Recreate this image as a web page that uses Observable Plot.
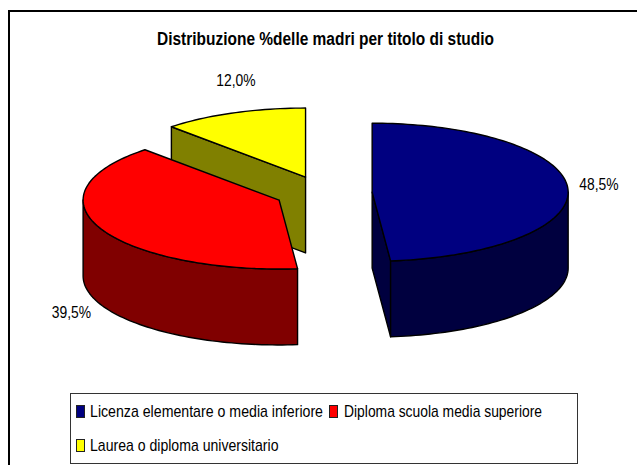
<!DOCTYPE html>
<html>
<head>
<meta charset="utf-8">
<script src="https://cdn.jsdelivr.net/npm/d3@7"></script>
<script src="https://cdn.jsdelivr.net/npm/@observablehq/plot@0.6"></script>
<style>
html,body{margin:0;padding:0;background:#fff;overflow:hidden}
#wrap{position:relative;width:637px;height:465px;font-family:"Liberation Sans",Arial,sans-serif;color:#000;overflow:hidden}
#frame{position:absolute;left:8px;top:10px;width:640px;height:470px;border:2px solid #000;box-sizing:border-box}
#chart{position:absolute;left:0;top:0}
.t{position:absolute;white-space:nowrap;transform-origin:0 0;line-height:1}
#legend{position:absolute;left:70px;top:393px;width:508px;height:71px;border:1px solid #333;box-sizing:border-box}
.sw{position:absolute;width:7px;height:11px;border:1px solid #222}
</style>
</head>
<body>
<div id="wrap">
<div id="frame"></div>
<div id="chart"></div>
<div id="legend"></div>
</div>
<script>
const title = "Distribuzione %delle madri per titolo di studio";
const categories = ["Licenza elementare o media inferiore", "Diploma scuola media superiore", "Laurea o diploma universitario"];
const shares = [48.5, 39.5, 12.0];
const shareLabels = ["48,5%", "39,5%", "12,0%"];
const topColors = ["#000080", "#FF0000", "#FFFF00"];
const wallColors = ["#00003F", "#800000", "#808000"];

// layout of the projected pie (not data)
const W = 637, H = 465;
const explode = 0.2485, depth = 1.1;
const xScale = {domain: [-1, 1], range: [127, 519]};
const yScale = {domain: [-1, 1], range: [123.5, 261.5]};
const labelNudge = [[31, -4], [-29, 8], [2.5, -32]];
const rad = d => d * Math.PI / 180;

let acc = 0;
const slices = shares.map((v, i) => {
  const s = acc / 100 * 360; acc += v; const e = acc / 100 * 360; const m = (s + e) / 2;
  return {i, s, e, m, cx: explode * Math.sin(rad(m)), cy: -explode * Math.cos(rad(m))};
});
const pt = (sl, t, z = 0) => ({x: sl.cx + Math.sin(rad(t)), y: sl.cy - Math.cos(rad(t)) + z});
const arc = (sl, a, b, z = 0) => {
  const n = Math.max(2, Math.ceil(Math.abs(b - a) / 1.5));
  return d3.range(n + 1).map(k => pt(sl, a + (b - a) * k / n, z));
};
const poly = (pts, fill) => Plot.line([...pts, pts[0]], {x: "x", y: "y", curve: "linear", fill, stroke: "#000", strokeWidth: 1.4});

const marks = [];
for (const sl of [...slices].sort((a, b) => a.cy - b.cy)) {
  const c = {x: sl.cx, y: sl.cy}, c2 = {x: sl.cx, y: sl.cy + depth};
  const wall = wallColors[sl.i];
  for (const [t, vis] of [[sl.s, Math.sin(rad(sl.s)) < -1e-6], [sl.e, Math.sin(rad(sl.e)) > 1e-6]]) {
    if (vis) marks.push(poly([c, pt(sl, t), pt(sl, t, depth), c2], wall));
  }
  const a = Math.max(sl.s, 90), b = Math.min(sl.e, 270);
  if (b > a) marks.push(poly([...arc(sl, a, b), ...arc(sl, b, a, depth)], wall));
  marks.push(poly([c, ...arc(sl, sl.s, sl.e)], topColors[sl.i]));
}
slices.forEach(sl => {
  const p = pt(sl, sl.m, Math.cos(rad(sl.m)) < -0.2 ? depth : 0);
  marks.push(Plot.text([{x: p.x, y: p.y, label: shareLabels[sl.i]}], {
    x: "x", y: "y", text: "label", dx: labelNudge[sl.i][0], dy: labelNudge[sl.i][1],
    fontSize: 17, fill: "#000", className: "pct"
  }));
});

const svg = Plot.plot({
  width: W, height: H, margin: 0,
  style: {background: "transparent", fontFamily: '"Liberation Sans",Arial,sans-serif', overflow: "hidden"},
  x: {...xScale, axis: null}, y: {...yScale, axis: null},
  marks
});
document.getElementById("chart").appendChild(svg);
svg.querySelectorAll(".pct text").forEach(t => {
  t.setAttribute("textLength", 39.3);
  t.setAttribute("lengthAdjust", "spacingAndGlyphs");
});

const wrap = document.getElementById("wrap");
function addText(parent, str, x, baseline, size, targetWidth, bold) {
  const d = document.createElement("div");
  d.className = "t"; d.textContent = str;
  d.style.fontSize = size + "px";
  if (bold) d.style.fontWeight = "bold";
  parent.appendChild(d);
  const w = d.getBoundingClientRect().width;
  d.style.left = x + "px";
  d.style.top = (baseline - size * 0.8465) + "px";
  d.style.transform = `scaleX(${targetWidth / w})`;
}
addText(wrap, title, 157, 45, 18, 337, true);
const legend = document.getElementById("legend");
const items = [[5, 11, 18.5, 233], [258, 11, 273, 198], [5, 45, 18.5, 188.5]];
categories.forEach((c, i) => {
  const [sx, top, tx, tw] = items[i];
  const s = document.createElement("div");
  s.className = "sw"; s.style.background = topColors[i];
  s.style.left = sx + "px"; s.style.top = top + "px";
  legend.appendChild(s);
  addText(legend, c, tx, top + 12, 17, tw, false);
});
</script>
</body>
</html>
